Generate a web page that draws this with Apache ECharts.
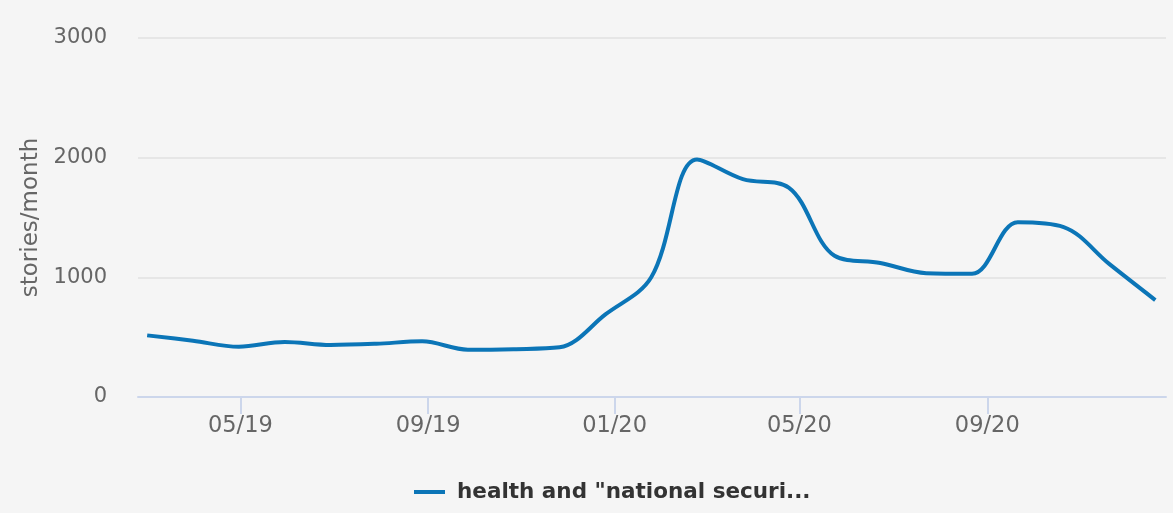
<!DOCTYPE html>
<html>
<head>
<meta charset="utf-8">
<script src="https://cdn.jsdelivr.net/npm/echarts@6/dist/echarts.min.js"></script>
<style>
    html, body { margin: 0; padding: 0; background: #f5f5f5; }
    #main { width: 1173px; height: 513px; }
</style>
</head>
<body>
<div id="main"></div>
<script>

    // one point every 30 days
    var dates = [
        '2019-03-01', '2019-03-31', '2019-04-30', '2019-05-30', '2019-06-29',
        '2019-07-29', '2019-08-28', '2019-09-27', '2019-10-27', '2019-11-26',
        '2019-12-26', '2020-01-25', '2020-02-24', '2020-03-25', '2020-04-24',
        '2020-05-24', '2020-06-23', '2020-07-23', '2020-08-22', '2020-09-21',
        '2020-10-21', '2020-11-20', '2020-12-20'
    ];
    var stories = [
        515, 470, 420, 460, 435,
        445, 465, 395, 400, 415,
        690, 1000, 1985, 1820, 1750,
        1180, 1120, 1035, 1030, 1460,
        1420, 1110, 810
    ];
    var tickDates = ['2019-05-01', '2019-09-01', '2020-01-01', '2020-05-01', '2020-09-01'];
    var seriesName = 'health and "national securi...';

    var chartDom = document.getElementById('main');
    var myChart = echarts.init(chartDom);
    var option;

    function ts(s) {
        return new Date(s + 'T00:00:00Z').getTime();
    }
    function monthLabel(v) {
        var d = new Date(v);
        var m = d.getUTCMonth() + 1;
        return (m < 10 ? '0' + m : '' + m) + '/' + String(d.getUTCFullYear()).slice(2);
    }

    var ticks = tickDates.map(ts);

    option = {
        backgroundColor: '#f5f5f5',
        textStyle: { fontFamily: 'DejaVu Sans' },
        grid: { left: 138, right: 7, top: 38, bottom: 116 },
        legend: {
            left: 409,
            top: 476,
            icon: 'rect',
            itemWidth: 31,
            itemHeight: 4,
            textStyle: {
                fontSize: 21.5,
                fontWeight: 'bold',
                color: '#333333',
                padding: [0, 0, 0, 7]
            },
            data: [seriesName]
        },
        xAxis: {
            // timestamps on a plain value axis so the month ticks can be placed by hand
            type: 'value',
            min: ts('2019-02-23'),
            max: ts('2020-12-27'),
            axisLine: { lineStyle: { color: '#ccd6eb', width: 2 } },
            axisTick: {
                customValues: ticks,
                length: 17,
                lineStyle: { color: '#ccd6eb', width: 2 }
            },
            axisLabel: {
                customValues: ticks,
                formatter: monthLabel,
                fontSize: 22.5,
                color: '#666666',
                margin: 18
            },
            splitLine: { show: false }
        },
        yAxis: {
            type: 'value',
            min: 0,
            max: 3000,
            interval: 1000,
            name: 'stories/month',
            nameLocation: 'middle',
            nameGap: 93,
            nameTextStyle: { fontSize: 23, color: '#666666' },
            axisLine: { show: false },
            axisTick: { show: false },
            axisLabel: {
                fontSize: 21,
                color: '#666666',
                margin: 31,
                formatter: function (v) { return String(v); }
            },
            splitLine: { lineStyle: { color: '#e6e6e6', width: 2 } }
        },
        series: [
            {
                name: seriesName,
                type: 'line',
                smooth: 0.35,
                showSymbol: false,
                color: '#0b75b7',
                lineStyle: { width: 4 },
                data: dates.map(function (d, i) {
                    return [ts(d), stories[i]];
                })
            }
        ]
    };

    option && myChart.setOption(option);

</script>
</body>
</html>
